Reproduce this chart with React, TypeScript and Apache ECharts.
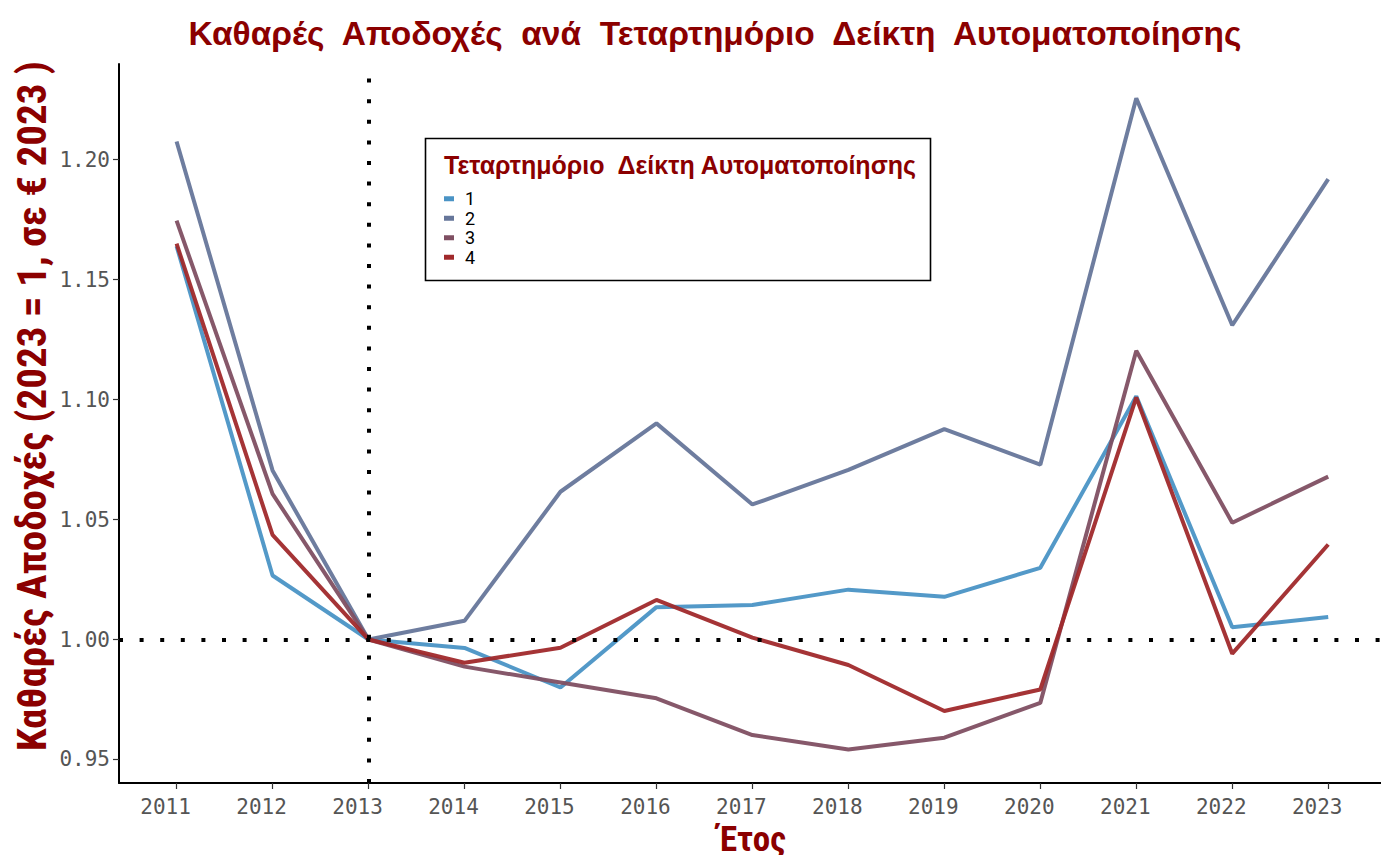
import React, { useEffect, useRef } from "react";
import * as echarts from "echarts";

const years = [2011, 2012, 2013, 2014, 2015, 2016, 2017, 2018, 2019, 2020, 2021, 2022, 2023];
const yTicks = [0.95, 1.0, 1.05, 1.1, 1.15, 1.2];
const seriesNames = ["1", "2", "3", "4"];
const q1 = [1.164, 1.0267, 1.0, 0.9965, 0.98, 1.0135, 1.0144, 1.0208, 1.0178, 1.0299, 1.1014, 1.0051, 1.0094];
const q2 = [1.2076, 1.0705, 1.0, 1.0078, 1.0616, 1.0901, 1.0563, 1.0707, 1.0877, 1.0729, 1.2256, 1.131, 1.1919];
const q3 = [1.1746, 1.0607, 1.0, 0.9887, 0.9821, 0.9755, 0.9602, 0.9542, 0.9591, 0.9736, 1.1204, 1.0487, 1.0679];
const q4 = [1.165, 1.0436, 1.0, 0.9903, 0.9966, 1.0165, 1.0008, 0.9894, 0.9702, 0.9792, 1.1009, 0.9941, 1.0396];
const colors = ["#4a93c5", "#66769a", "#7f4f62", "#a0292b"];
const refYear = 2013;
const refValue = 1.0;

const titleText = "Καθαρές  Αποδοχές  ανά  Τεταρτημόριο  Δείκτη  Αυτοματοποίησης";
const yTitle = "Καθαρές Αποδοχές (2023 = 1, σε € 2023 )";
const xTitle = "Έτος";
const legendTitle = "Τεταρτημόριο  Δείκτη Αυτοματοποίησης";

export default function App() {
  const ref = useRef<HTMLDivElement>(null);
  useEffect(() => {
    if (!ref.current) return;
    const chart = echarts.init(ref.current, null, { renderer: "svg" });
    const all = [q1, q2, q3, q4];
    const dark = "#8b0000";
    const tickFont = "'DejaVu Sans Mono', monospace";
    const boldFont = "'Liberation Sans', Arial, sans-serif";
    const narrowFont = "'Liberation Sans Narrow', 'Roboto Condensed', Roboto, sans-serif";
    chart.setOption({
      animation: false,
      backgroundColor: "#ffffff",
      grid: { left: 119, right: 0, top: 64, bottom: 72, containLabel: false },
      xAxis: {
        type: "value",
        min: 2010.4,
        max: 2023.55,
        axisLine: { show: true, lineStyle: { color: "#000", width: 2 } },
        axisTick: { show: true, customValues: years, length: 6, lineStyle: { color: "#333", width: 1.2 } },
        axisLabel: {
          customValues: years,
          formatter: (v: number) => String(Math.round(v)),
          color: "#555555",
          fontFamily: tickFont,
          fontSize: 21,
          margin: 13,
          padding: [0, 22, 0, 0],
        },
        splitLine: { show: false },
      },
      yAxis: {
        type: "value",
        min: 0.9402,
        max: 1.2399,
        axisLine: { show: true, lineStyle: { color: "#000", width: 2 } },
        axisTick: { show: true, customValues: yTicks, length: 6, lineStyle: { color: "#333", width: 1.2 } },
        axisLabel: {
          customValues: yTicks,
          formatter: (v: number) => v.toFixed(2),
          color: "#555555",
          fontFamily: tickFont,
          fontSize: 21,
          margin: 9,
        },
        splitLine: { show: false },
      },
      legend: {
        orient: "vertical",
        left: 439,
        top: 184,
        data: seriesNames,
        icon: "rect",
        itemWidth: 10,
        itemHeight: 5,
        itemGap: 0,
        z: 10,
        textStyle: { fontSize: 18, color: "#000", fontFamily: "Roboto", padding: [0, 0, 0, 6], lineHeight: 19.5 },
      },
      graphic: [
        {
          type: "text",
          x: 715,
          y: 33,
          style: {
            text: titleText,
            fill: dark,
            font: "bold 33.5px " + boldFont,
            align: "center",
            verticalAlign: "middle",
          },
        },
        {
          type: "text",
          x: 32,
          y: 406,
          rotation: Math.PI / 2,
          style: {
            text: yTitle,
            fill: dark,
            font: "bold 41px " + narrowFont,
            align: "center",
            verticalAlign: "middle",
          },
        },
        {
          type: "text",
          x: 752,
          y: 839,
          style: {
            text: xTitle,
            fill: dark,
            font: "bold 35px " + narrowFont,
            lineHeight: 30,
            align: "center",
            verticalAlign: "middle",
          },
        },
        {
          type: "rect",
          z: 0,
          shape: { x: 425.5, y: 138.5, width: 505, height: 142 },
          style: { fill: "#fff", stroke: "#000", lineWidth: 1.6 },
        },
        {
          type: "text",
          x: 680,
          y: 165,
          z: 1,
          style: {
            text: legendTitle,
            fill: dark,
            font: "bold 25px " + boldFont,
            align: "center",
            verticalAlign: "middle",
          },
        },
      ],
      series: [
        {
          name: "ref",
          type: "line",
          data: [],
          z: 1,
          silent: true,
          markLine: {
            silent: true,
            symbol: "none",
            label: { show: false },
            lineStyle: { color: "#000", width: 4, type: [4, 16.6] },
            data: [{ xAxis: refYear }, { yAxis: refValue }],
          },
        },
        ...all.map((arr, i) => ({
          name: seriesNames[i],
          type: "line",
          z: 3,
          data: years.map((y, j) => [y, arr[j]]),
          showSymbol: false,
          symbol: "none",
          lineStyle: { color: colors[i], width: 4, opacity: 0.95 },
          itemStyle: { color: colors[i] },
        })),
      ],
    });
    return () => chart.dispose();
  }, []);
  return <div ref={ref} style={{ position: "fixed", left: 0, top: 0, width: 1381, height: 855 }} />;
}
